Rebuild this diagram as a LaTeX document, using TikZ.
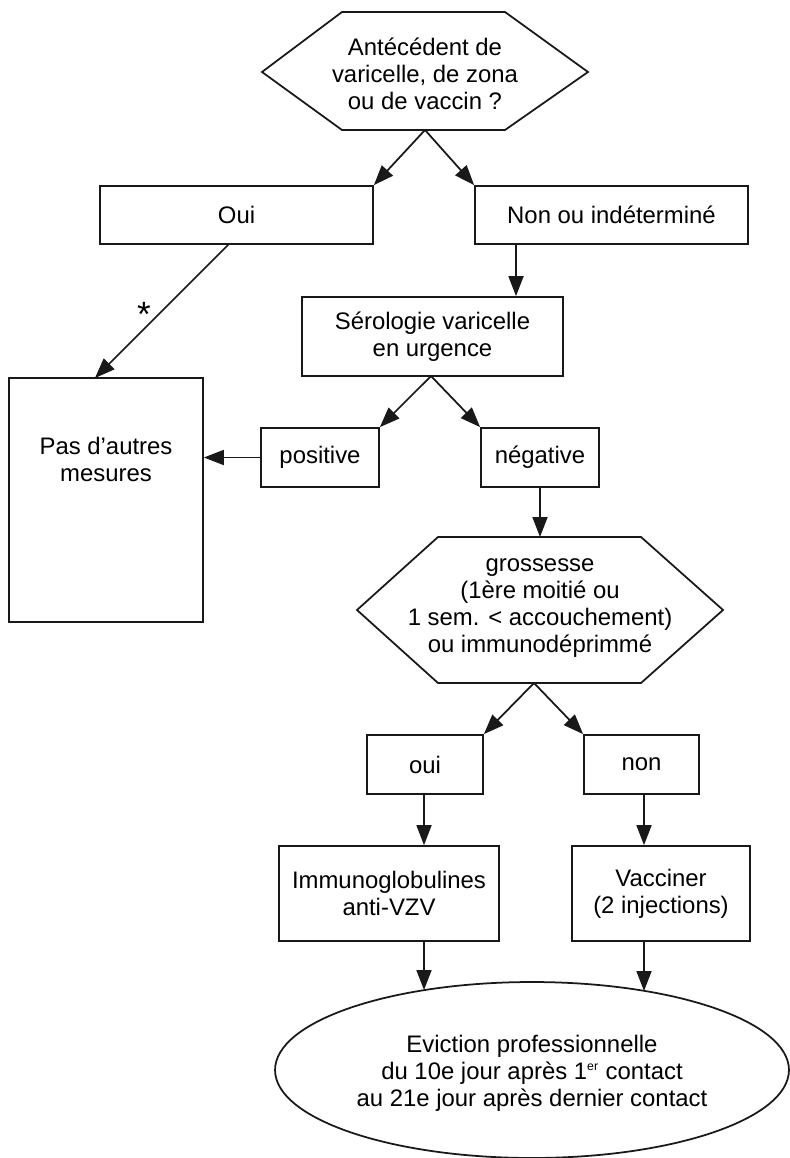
\documentclass[tikz,border=0pt]{standalone}
\usepackage{fontspec}
\setmainfont{Liberation Sans}
\usetikzlibrary{arrows.meta,shapes.geometric}
\begin{document}
\begin{tikzpicture}[x=0.02cm,y=-0.02cm,
  font=\fontsize{13.6}{15.4}\selectfont,
  line/.style={draw=black!90, line width=1pt, line join=miter},
  box/.style={line, rectangle, inner sep=0pt, align=center},
  arr/.style={line, -{Triangle[length=0.4cm,width=0.3cm]}},
  txt/.style={inner sep=0pt, align=center}]
\useasboundingbox (0,0) rectangle (790,1158);
\fill[white] (0,0) rectangle (790,1158);

% top hexagon
\draw[line] (262,72) -- (342,12) -- (505,12) -- (588,72) -- (505,130) -- (342,130) -- cycle;
\node[txt] (h1) at (425,74) {Antécédent de\\varicelle, de zona\\ou de vaccin ?};
\coordinate (h1b) at (425,130);

% boxes
\node[box, minimum width=5.46cm, minimum height=1.16cm] (oui) at (236.5,215) {Oui};
\node[box, minimum width=5.46cm, minimum height=1.16cm] (non) at (611.5,215) {Non ou indéterminé};
\node[box, minimum width=5.22cm, minimum height=1.58cm] (ser) at (432.5,336.5) {Sérologie varicelle\\en urgence};
\node[box, minimum width=3.88cm, minimum height=4.88cm] (pas) at (106,500) {};
\node[txt] (pastxt) at (106,459) {Pas d’autres\\mesures};
\node[box, minimum width=2.36cm, minimum height=1.18cm] (pos) at (320,457.5) {positive};
\node[box, minimum width=2.36cm, minimum height=1.18cm] (neg) at (540,457.5) {négative};

% second hexagon
\draw[line] (357,610) -- (438,537) -- (641,537) -- (723,610) -- (641,683) -- (438,683) -- cycle;
\node[txt] (h2) at (540,608) {grossesse\\(1ère moitié ou\\1 sem. < accouchement)\\ou immunodéprimmé};
\coordinate (h2t) at (540,537);
\coordinate (h2b) at (534,683);

\node[box, minimum width=2.32cm, minimum height=1.18cm] (oui2) at (425,764.5) {oui};
\node[box, minimum width=2.30cm, minimum height=1.18cm] (non2) at (641.5,764.5) {non};
\node[box, minimum width=4.40cm, minimum height=1.9cm] (imm) at (389,893.5) {Immunoglobulines\\anti-VZV};
\node[box, minimum width=3.56cm, minimum height=1.9cm] (vac) at (661,893.5) {Vacciner\\(2 injections)};

\node[line, ellipse, inner sep=0pt, minimum width=10.28cm, minimum height=3.52cm] (ell) at (532,1070) {};
\node[txt] (elltxt) at (532,1073) {Eviction professionnelle\\du 10e jour après 1\textsuperscript{\scriptsize er} contact\\au 21e jour après dernier contact};
\coordinate (e1) at (424,990);
\coordinate (e2) at (644,991);

% connectors
\draw[arr] (h1b) -- (oui.north east);
\draw[arr] (h1b) -- (non.north west);
\coordinate (ax) at (516,0);
\draw[arr] (non.south -| ax) -- (ser.north -| ax);
\coordinate (oa) at (229,244);
\coordinate (pa) at (95,378);
\draw[arr] (oa) -- (pa);
\node[txt, font=\fontsize{20}{20}\selectfont] (star) at (144,314) {*};
\coordinate (sb) at (431,376);
\draw[arr] (sb) -- (pos.north east);
\draw[arr] (sb) -- (neg.north west);
\draw[arr] (pos.west) -- (pas.east |- pos.west);
\draw[arr] (neg.south) -- (h2t);
\draw[arr] (h2b) -- (oui2.north east);
\draw[arr] (h2b) -- (non2.north west);
\coordinate (c1) at (424,0);
\coordinate (c2) at (644,0);
\draw[arr] (oui2.south -| c1) -- (imm.north -| c1);
\draw[arr] (non2.south -| c2) -- (vac.north -| c2);
\draw[arr] (imm.south -| c1) -- (e1);
\draw[arr] (vac.south -| c2) -- (e2);
\end{tikzpicture}
\end{document}
